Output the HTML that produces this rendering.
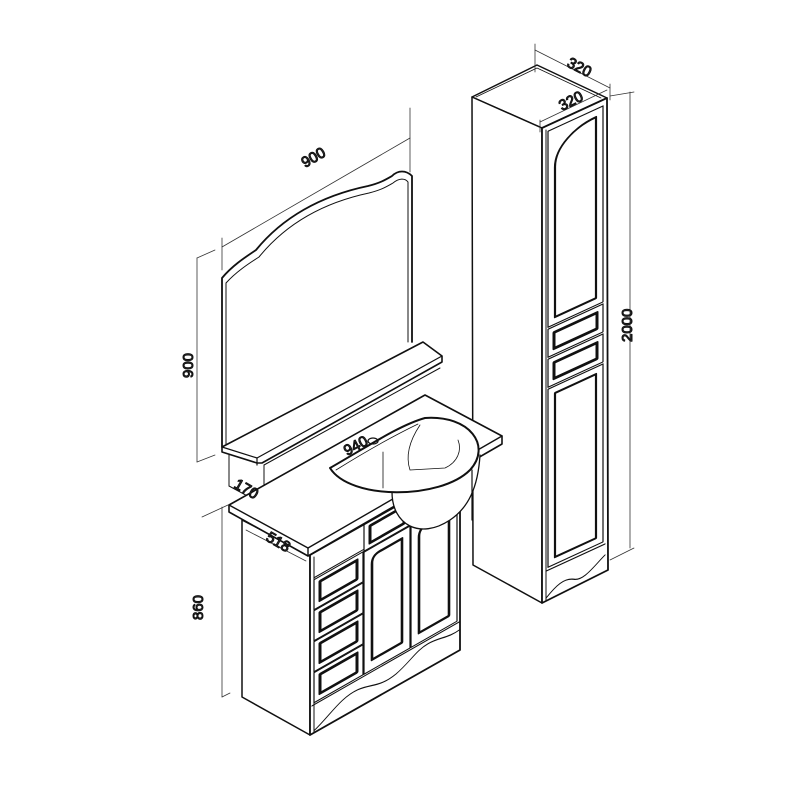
<!DOCTYPE html>
<html><head><meta charset="utf-8"><style>
html,body{margin:0;padding:0;background:#fff;width:800px;height:800px;overflow:hidden}
svg{display:block}
text{font-family:"Liberation Sans",sans-serif;fill:#444}
</style></head><body>
<svg width="800" height="800" viewBox="0 0 800 800" xmlns="http://www.w3.org/2000/svg" fill="none" stroke="#111" stroke-linejoin="round" stroke-linecap="round">

<!-- ===== Tall cabinet ===== -->
<polygon points="472,97 537,65 607,98 542,128" fill="#fff" stroke-width="1.5"/>
<polyline points="476,97 537,68 601,98" stroke-width="0.8"/>
<polygon points="472,97 542,128 542,603 473,565" fill="#fff" stroke-width="1.5"/>
<polygon points="542,128 607,98 608,570 542,603" fill="#fff" stroke-width="1.8"/>
<line x1="546" y1="130" x2="546" y2="601" stroke-width="1"/>
<g transform="matrix(1,-0.46,0,1,542,128)" stroke-width="1.2">
  <rect x="6" y="6" width="55" height="196"/>
  <path d="M13,195 L13,45 C13,25 33,14 54,14 L54,195 Z" stroke-width="2.2"/>
  <rect x="6" y="204" width="55" height="28"/>
  <rect x="12" y="210" width="43" height="16" stroke-width="3"/>
  <rect x="6" y="234" width="55" height="28"/>
  <rect x="12" y="240" width="43" height="16" stroke-width="3"/>
  <rect x="6" y="264" width="55" height="178"/>
  <rect x="13" y="271" width="41" height="164" stroke-width="2.2"/>
  <path d="M4,445 L63,445" />
  <path d="M4,472 C14,464 22,460 32,466 C42,472 52,462 63,456"/>
</g>

<g stroke-width="0.8" stroke="#333">
  <line x1="535" y1="50" x2="610" y2="88"/>
  <line x1="535" y1="44" x2="535" y2="72"/>
  <line x1="610" y1="84" x2="610" y2="100"/>
  <line x1="540" y1="122" x2="607" y2="90"/>
  <line x1="540" y1="120" x2="540" y2="132"/>
  <line x1="630" y1="92" x2="630" y2="548"/>
  <line x1="610" y1="96" x2="634" y2="92"/>
  <line x1="610" y1="560" x2="634" y2="548"/>
</g>
<text x="566" y="66" font-size="15" transform="rotate(27 566 66)">320</text>
<text x="562" y="111" font-size="15" transform="rotate(-27 562 111)">320</text>
<text x="632" y="342" font-size="15" transform="rotate(-90 632 342)">2000</text>

<!-- ===== Mirror ===== -->
<path d="M222,447 L222,278 C232,266 244,258 256,250 C282,218 320,196 368,186 C380,183 385,180 392,176 C398,170 406,170 412,176 L412,342" fill="#fff" stroke-width="1.8"/>
<path d="M226,446 L226,283 C236,272 248,264 259,257 C285,225 322,203 369,193 C381,190 386,187 393,183 C399,178 405,178 408,182 L408,342" stroke-width="1"/>
<polygon points="222,447 423,342 442,356 442,362 262,463 257,463 222,452" fill="#fff" stroke-width="1.6"/>
<polyline points="222,447 257,458 442,356" stroke-width="1.2"/>
<line x1="257" y1="458" x2="257" y2="465" stroke-width="1.2"/>
<g stroke-width="1">
  <line x1="229" y1="455" x2="229" y2="486"/>
  <line x1="264" y1="465" x2="264" y2="505"/>
  <line x1="229" y1="486" x2="264" y2="505"/>
  <line x1="264" y1="465" x2="440" y2="368"/>
</g>

<g stroke-width="0.8" stroke="#333">
  <line x1="222" y1="247" x2="410" y2="138"/>
  <line x1="222" y1="238" x2="222" y2="270"/>
  <line x1="410" y1="108" x2="410" y2="172"/>
  <line x1="197" y1="258" x2="197" y2="462"/>
  <line x1="197" y1="258" x2="215" y2="250"/>
  <line x1="197" y1="462" x2="215" y2="455"/>
</g>
<text x="305" y="168" font-size="15" transform="rotate(-30 305 168)">900</text>
<text x="193" y="378" font-size="15" transform="rotate(-90 193 378)">900</text>

<!-- ===== Vanity ===== -->
<polygon points="242,520 310,555 310,735 242,697" fill="#fff" stroke-width="1.5"/>
<polygon points="310,555 460,470 460,650 310,735" fill="#fff" stroke-width="1.8"/>
<line x1="314" y1="557" x2="314" y2="733" stroke-width="1"/>
<g transform="matrix(1,-0.57,0,1,310,555)" stroke-width="1.2">
  <line x1="4" y1="25" x2="53" y2="25"/>
  <rect x="4" y="27" width="49" height="30"/>
  <rect x="10" y="32" width="37" height="19" stroke-width="3"/>
  <rect x="4" y="58" width="49" height="30"/>
  <rect x="10" y="63" width="37" height="19" stroke-width="3"/>
  <rect x="4" y="89" width="49" height="30"/>
  <rect x="10" y="94" width="37" height="19" stroke-width="3"/>
  <rect x="4" y="120" width="49" height="30"/>
  <rect x="10" y="125" width="37" height="19" stroke-width="3"/>
  <rect x="54" y="0" width="46" height="27"/>
  <rect x="60" y="5" width="34" height="17" stroke-width="3"/>
  <rect x="54" y="28" width="46" height="122"/>
  <path d="M62,140 L62,44 Q62,36 70,36 L92,36 L92,140 Z" stroke-width="2.6"/>
  <rect x="101" y="0" width="46" height="27"/>
  <rect x="107" y="5" width="34" height="17" stroke-width="3"/>
  <rect x="101" y="28" width="46" height="122"/>
  <path d="M109,140 L109,44 Q109,36 117,36 L139,36 L139,140 Z" stroke-width="2.6"/>
  <line x1="2" y1="152" x2="150" y2="152"/>
  <path d="M4,178 C20,172 30,160 48,162 C62,164 70,172 86,168 C100,164 106,156 118,156 C130,156 138,162 150,160"/>
</g>

<polygon points="229,505 425,395 502,436 502,444 308,556 229,512" fill="#fff" stroke-width="1.6"/>
<polyline points="229,505 308,548 502,436" stroke-width="1.4"/>
<line x1="308" y1="548" x2="308" y2="556" stroke-width="1.4"/>
<path d="M392,492 C392,525 420,540 450,520 C468,508 478,488 480,455" fill="#fff" stroke-width="1.3"/>
<path d="M330,468 C350,500 440,500 470,470 C492,446 470,415 425,418 C400,425 370,445 330,468 Z" fill="#fff" stroke-width="2"/>
<path d="M336,470 C360,455 385,440 418,424" stroke-width="0.8"/>
<path d="M420,425 C410,440 405,455 410,470 L445,468 C458,462 462,450 458,440" stroke-width="0.8"/>
<line x1="383" y1="452" x2="383" y2="488" stroke-width="0.8"/>
<ellipse cx="373" cy="441" rx="5" ry="3" stroke-width="1.3"/>
<line x1="472" y1="470" x2="472" y2="520" stroke-width="1.2"/>

<g stroke-width="0.8" stroke="#333">
  <line x1="222" y1="507" x2="222" y2="697"/>
  <line x1="202" y1="517" x2="228" y2="505"/>
  <line x1="222" y1="697" x2="230" y2="693"/>
  <line x1="246" y1="530" x2="306" y2="561"/>
</g>
<text x="203" y="620" font-size="15" transform="rotate(-90 203 620)">860</text>
<text x="265" y="540" font-size="15" transform="rotate(30 265 540)">518</text>
<text x="233" y="487" font-size="15" transform="rotate(30 233 487)">170</text>
<text x="347" y="456" font-size="15" transform="rotate(-28 347 456)">940</text>
</svg>
</body></html>
